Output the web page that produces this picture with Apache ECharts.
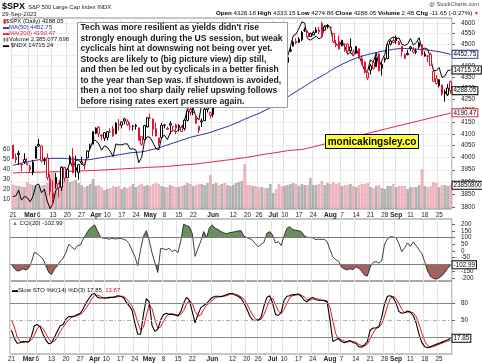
<!DOCTYPE html>
<html><head><meta charset="utf-8">
<script src="https://cdn.jsdelivr.net/npm/echarts@6/dist/echarts.min.js"></script>
<style>html,body{margin:0;padding:0;background:#fff}#c{width:482px;height:363px}</style>
</head><body><div id="c"></div><script>
const dates = ['02-21','02-22','02-23','02-24','02-27','02-28',
'03-01','03-02','03-03','03-06','03-07','03-08','03-09','03-10','03-13','03-14','03-15','03-16','03-17','03-20','03-21','03-22','03-23','03-24','03-27','03-28','03-29','03-30','03-31',
'04-03','04-04','04-05','04-06','04-10','04-11','04-12','04-13','04-14','04-17','04-18','04-19','04-20','04-21','04-24','04-25','04-26','04-27','04-28',
'05-01','05-02','05-03','05-04','05-05','05-08','05-09','05-10','05-11','05-12','05-15','05-16','05-17','05-18','05-19','05-22','05-23','05-24','05-25','05-26','05-30','05-31',
'06-01','06-02','06-05','06-06','06-07','06-08','06-09','06-12','06-13','06-14','06-15','06-16','06-20','06-21','06-22','06-23','06-26','06-27','06-28','06-29','06-30',
'07-03','07-05','07-06','07-07','07-10','07-11','07-12','07-13','07-14','07-17','07-18','07-19','07-20','07-21','07-24','07-25','07-26','07-27','07-28','07-31',
'08-01','08-02','08-03','08-04','08-07','08-08','08-09','08-10','08-11','08-14','08-15','08-16','08-17','08-18','08-21','08-22','08-23','08-24','08-25','08-28','08-29','08-30','08-31',
'09-01','09-05','09-06','09-07','09-08','09-11','09-12','09-13','09-14','09-15','09-18','09-19','09-20','09-21','09-22','09-25','09-26','09-27','09-28','09-29'];

const tickDates = ['02-21','03-01','03-06','03-13','03-20','03-27','04-03','04-10','04-17','04-24','05-01','05-08','05-15','05-22','06-01','06-12','06-20','06-26','07-03','07-10','07-17','07-24','08-01','08-07','08-14','08-21','08-28','09-01','09-11','09-18','09-25'];
const tickText = ['21','Mar','6','13','20','27','Apr','10','17','24','May','8','15','22','Jun','12','20','26','Jul','10','17','24','Aug','7','14','21','28','Sep','11','18','25'];

const open = [4052.4,4001.8,4018.6,3973.2,3992.4,3977.2,
3963.3,3938.7,3998.0,4055.2,4048.3,3987.6,3998.7,3912.8,3835.1,3894.0,3876.7,3878.9,3958.7,3917.5,3975.9,4002.0,3959.2,3939.2,3982.9,3974.1,3999.5,4046.7,4056.2,
4102.2,4128.0,4094.5,4081.2,4085.2,4110.3,4121.7,4100.0,4140.1,4137.2,4164.3,4139.3,4130.5,4132.1,4132.1,4126.4,4087.8,4075.3,4129.6,
4166.8,4164.1,4122.3,4082.6,4084.7,4137.0,4124.3,4143.7,4132.2,4138.5,4126.7,4128.0,4122.9,4157.7,4204.2,4190.8,4176.8,4133.0,4155.7,4156.2,4226.7,4190.7,
4183.0,4241.0,4283.0,4271.3,4285.5,4268.7,4304.9,4308.3,4352.6,4366.3,4365.3,4441.0,4396.1,4380.0,4355.4,4354.2,4344.8,4337.4,4367.5,4374.9,4422.4,
4450.5,4442.0,4422.6,4404.5,4394.2,4415.6,4467.7,4491.5,4514.6,4508.9,4521.8,4563.9,4554.4,4550.2,4543.4,4555.2,4559.0,4598.3,4565.8,4584.8,
4578.8,4550.9,4494.3,4514.0,4491.6,4498.0,4501.6,4487.2,4450.7,4458.1,4478.9,4433.8,4416.3,4344.9,4380.3,4415.3,4396.4,4455.2,4389.4,4426.0,4432.8,4500.3,4517.0,
4530.6,4510.1,4490.4,4434.6,4451.3,4481.0,4473.3,4462.7,4487.8,4498.0,4445.1,4445.4,4452.8,4374.4,4341.7,4310.6,4312.9,4282.6,4269.7,4328.2];
const high = [4052.4,4017.4,4028.3,3978.3,4018.1,3997.5,
3971.7,3990.8,4048.3,4078.5,4050.0,4000.4,4017.8,3934.1,3905.1,3937.3,3894.3,3964.5,3958.9,3956.6,4009.1,4039.5,4007.7,3972.7,4003.8,3979.2,4030.6,4057.9,4110.8,
4127.7,4133.1,4099.7,4107.3,4109.5,4124.3,4134.4,4150.3,4163.2,4151.7,4169.5,4162.6,4148.6,4138.0,4142.4,4126.4,4089.7,4138.2,4170.1,
4186.9,4164.1,4148.3,4082.6,4147.0,4142.3,4130.4,4154.3,4132.8,4143.7,4141.3,4135.5,4164.7,4202.2,4212.9,4209.2,4185.7,4133.0,4165.7,4212.9,4231.1,4195.4,
4232.4,4290.7,4299.3,4288.3,4299.2,4298.0,4322.6,4340.1,4375.4,4391.8,4439.2,4448.5,4400.2,4386.2,4382.3,4366.6,4362.1,4384.4,4390.4,4398.4,4458.5,
4456.5,4454.1,4422.6,4440.4,4412.6,4443.6,4488.3,4517.4,4527.8,4532.9,4562.3,4578.4,4564.7,4555.0,4563.4,4580.6,4582.5,4607.1,4590.2,4594.2,
4584.6,4550.9,4519.5,4540.3,4519.8,4503.3,4502.4,4527.4,4476.2,4490.3,4478.9,4450.0,4421.2,4381.8,4407.6,4418.6,4443.2,4458.3,4418.5,4439.6,4500.1,4521.7,4532.3,
4541.3,4514.3,4490.4,4457.8,4473.5,4490.8,4487.1,4479.4,4512.0,4498.0,4466.4,4449.9,4461.0,4375.7,4357.4,4338.5,4313.0,4292.1,4317.3,4333.2];
const low = [3995.2,3976.9,3969.2,3943.1,3973.6,3969.0,
3939.1,3928.2,3995.2,4044.6,3980.3,3969.8,3908.7,3846.3,3808.9,3873.6,3838.2,3864.1,3901.3,3916.9,3971.2,3936.2,3919.1,3909.2,3970.5,3951.5,3999.5,4032.1,4056.2,
4098.8,4086.9,4072.6,4069.8,4072.6,4102.6,4086.9,4099.4,4113.2,4123.2,4140.4,4134.5,4114.6,4113.9,4117.8,4071.4,4049.4,4075.3,4127.2,
4164.1,4089.7,4088.9,4048.3,4084.7,4123.8,4116.7,4098.9,4109.3,4099.1,4110.3,4109.9,4113.6,4153.5,4180.2,4179.7,4142.5,4104.0,4129.7,4156.2,4192.2,4166.2,
4171.6,4241.0,4266.8,4263.1,4264.0,4261.1,4291.7,4304.4,4337.7,4337.9,4362.6,4407.4,4367.2,4360.1,4351.8,4341.3,4328.1,4335.0,4360.2,4372.0,4422.4,
4442.3,4436.6,4385.1,4397.4,4389.9,4408.5,4463.2,4489.4,4499.6,4504.9,4514.6,4557.5,4527.6,4535.8,4541.3,4552.4,4547.6,4528.6,4564.0,4573.1,
4567.5,4505.8,4485.5,4474.6,4491.2,4464.4,4461.3,4457.9,4444.0,4453.4,4432.2,4403.6,4364.8,4335.3,4360.3,4382.8,4396.4,4375.6,4356.3,4415.0,4431.7,4493.6,4507.4,
4501.4,4496.0,4442.4,4430.5,4448.4,4467.9,4456.8,4453.5,4478.7,4447.2,4442.1,4416.6,4401.4,4329.2,4316.5,4302.7,4266.0,4238.6,4264.4,4274.9];
const close = [3997.3,3991.1,4012.3,3970.0,3982.2,3970.2,
3951.4,3981.4,4045.6,4048.4,3986.4,3992.0,3918.3,3861.6,3855.8,3919.3,3891.9,3960.3,3916.6,3951.6,4002.9,3937.0,3948.7,3971.0,3977.5,3971.3,4027.8,4050.8,4109.3,
4124.5,4100.6,4090.4,4105.0,4109.1,4108.9,4092.0,4146.2,4137.6,4151.3,4154.9,4154.5,4129.8,4133.5,4137.0,4071.6,4056.0,4135.4,4169.5,
4167.9,4119.6,4090.8,4061.2,4136.3,4138.1,4119.2,4137.6,4130.6,4124.1,4136.3,4109.9,4158.8,4198.1,4192.0,4192.6,4145.6,4115.2,4151.3,4205.5,4205.5,4179.8,
4221.0,4282.4,4273.8,4283.9,4267.5,4293.9,4298.9,4338.9,4369.0,4372.6,4425.8,4409.6,4388.7,4365.7,4381.9,4348.3,4328.8,4378.4,4376.9,4396.4,4450.4,
4455.6,4446.8,4411.6,4399.0,4409.5,4439.3,4472.2,4510.0,4505.4,4522.8,4555.0,4565.7,4534.9,4536.3,4554.6,4567.5,4566.8,4537.4,4582.2,4589.0,
4576.7,4513.4,4501.9,4478.0,4518.4,4499.4,4467.7,4468.8,4464.1,4489.7,4437.9,4404.3,4370.4,4369.7,4399.8,4387.6,4436.0,4376.3,4405.7,4433.3,4497.6,4514.9,4507.7,
4515.8,4496.8,4465.5,4451.1,4457.5,4487.5,4461.9,4467.4,4505.1,4450.3,4453.5,4444.0,4402.2,4330.0,4320.1,4337.4,4273.5,4274.5,4299.7,4288.05];
const prevCloseBefore = 4079.1;

const volumeM = [2450,2380,2300,2250,2200,2700,
2500,2400,2350,2300,2350,2400,2600,3400,3700,3200,2900,3300,4300,3000,2700,2800,2900,2600,2400,2200,2300,2500,3000,
2300,2400,2200,1900,2000,2100,2300,2200,2300,2000,2200,2100,2300,2500,2200,2400,2500,2300,2400,
2300,2500,2600,2500,2300,2200,2200,2400,2300,2200,2200,2300,2400,2600,2500,2300,2400,2500,2500,2400,2600,3400,
2500,2600,2400,2500,2600,2400,2300,2400,2600,2700,2800,4500,2400,2400,2300,2300,2200,2200,2100,2100,2500,
1600,2000,2500,2300,2300,2400,2500,2600,2500,2300,2500,2400,2400,3100,2400,2400,2500,2800,2400,2600,
2500,2700,2500,2600,2300,2400,2400,2500,2300,2200,2400,2500,2500,2600,2200,2100,2300,2400,2100,2000,2300,2300,2500,
2200,2300,2300,2300,2000,2200,2200,2200,2400,4000,2300,2200,2300,2700,2600,2200,2400,2400,2300,2385.08];

const ndx = [12060,12070,12180,11990,12060,12040,
11960,12060,12270,12300,12130,12200,11970,11830,11930,12180,12230,12500,12520,12560,12750,12600,12770,12770,12700,12650,12880,13000,13180,
13170,13100,12970,13060,13030,12950,12840,13100,13080,13080,13100,13100,12990,13000,12970,12720,12820,13160,13250,
13230,13120,13000,12980,13240,13280,13190,13330,13390,13340,13400,13410,13590,13850,13810,13860,13670,13600,13940,14300,14340,14250,
14450,14550,14560,14540,14290,14460,14520,14730,14850,14950,15170,15080,15000,14780,14960,14810,14600,14860,14890,14860,15180,
15190,15200,15040,14950,14960,15030,15260,15530,15570,15710,15870,15840,15460,15420,15470,15520,15450,15490,15770,15760,
15730,15380,15330,15270,15400,15270,15080,15130,15040,15210,15040,14870,14690,14690,14950,14900,15120,14780,14940,15080,15380,15460,15500,
15460,15470,15320,15290,15330,15460,15300,15360,15480,15200,15230,15200,14990,14700,14700,14770,14540,14570,14700,14715.24];

const ma50 = [3968,3971,3974,3977,3980,3982,
3985,3987,3989,3991,3993,3994,3995,3996,3997,3997,3997,3997,3996,3996,3995,3994,3993,3992,3991,3991,3991,3992,3994,
3996,3998,4000,4002,4004,4006,4008,4010,4012,4014,4016,4018,4020,4021,4022,4023,4024,4026,4029,
4032,4035,4038,4041,4045,4049,4053,4057,4061,4065,4069,4073,4077,4081,4085,4088,4091,4094,4097,4100,4103,4106,
4110,4115,4119,4123,4127,4131,4136,4141,4146,4151,4157,4163,4168,4173,4178,4183,4188,4194,4200,4206,4213,
4220,4228,4236,4244,4252,4260,4268,4276,4284,4292,4300,4308,4316,4324,4332,4340,4347,4354,4361,4369,
4378,4386,4393,4400,4407,4413,4419,4425,4430,4435,4440,4444,4448,4452,4455,4458,4461,4464,4467,4470,4472,4474,4476,
4478,4479,4480,4480,4480,4479,4478,4477,4476,4475,4474,4473,4471,4469,4467,4465,4462,4459,4456,4452.75];

const ma200 = [3937,3937,3938,3938,3938,3939,
3939,3939,3940,3940,3940,3941,3941,3941,3942,3942,3942,3943,3943,3944,3944,3944,3945,3945,3945,3946,3946,3947,3947,
3948,3948,3949,3949,3950,3951,3951,3952,3953,3953,3954,3955,3955,3956,3957,3957,3958,3959,3960,
3960,3961,3961,3962,3962,3963,3964,3965,3966,3967,3968,3969,3970,3971,3972,3973,3974,3975,3977,3978,3980,3981,
3983,3984,3986,3987,3989,3990,3992,3993,3995,3997,3998,4000,4002,4004,4006,4008,4010,4012,4014,4016,4018,
4019,4021,4023,4025,4027,4029,4030,4031,4032,4033,4034,4036,4039,4042,4045,4048,4051,4054,4057,4060,
4063,4066,4069,4072,4075,4078,4081,4084,4087,4090,4093,4096,4099,4102,4105,4108,4111,4114,4117,4120,4123,4126,4129,
4132,4135,4138,4141,4144,4147,4150,4153,4156,4159,4162,4165,4168,4171,4174,4177,4180,4183,4186,4190.47];

const cci20 = [-100,-130,-150,-145,-132,-142,-128,-80,-10,-20,-40,-60,-110,-160,-175,-135,-110,-75,-55,-10,
50,30,10,40,45,90,125,160,180,195,150,105,95,95,88,95,90,92,95,88,
80,55,5,-40,-110,10,110,152,80,-15,-90,-160,20,15,10,20,-5,8,-12,75,
200,190,182,130,-40,20,75,145,100,175,195,170,160,145,135,130,137,140,145,150,
152,110,100,92,80,55,32,50,65,132,145,120,60,70,40,115,170,182,160,155,
152,145,115,102,102,98,85,88,87,87,70,10,-45,-65,-78,-120,-135,-140,-132,-140,
-118,-128,-150,-180,-187,-120,-85,-78,-90,-75,50,90,107,104,100,55,-5,25,60,35,
68,40,10,-20,-80,-150,-190,-205,-210,-200,-185,-160,-130,-102.99];

const stochK = [32,18,9,10,12,12,11,22,40,42,38,25,15,8,10,20,30,40,42,52,
56,56,57,60,62,70,80,88,95,97,90,89,89,89,90,90,91,93,92,90,
82,75,68,45,25,25,60,88,82,40,30,34,50,60,62,60,60,59,57,65,
80,90,85,65,45,60,72,76,79,85,90,92,92,91,93,95,97,97,94,92,
88,80,70,58,50,49,50,55,75,90,93,80,60,58,64,85,92,93,95,95,
96,92,85,82,88,90,86,85,85,84,82,50,12,15,18,12,10,12,14,10,
9,3,2,6,12,32,36,36,38,55,78,92,93,90,80,65,62,63,66,64,
58,45,25,10,3,1,3,5,7,9,11,13,15,17.85];
const stochD = [50,38,20,12,10,11,12,15,24,35,40,35,26,16,11,13,20,30,37,45,
50,55,56,58,60,64,71,79,88,93,94,92,89,89,89,90,90,91,92,92,
88,82,75,63,46,32,37,58,77,70,51,35,38,48,57,61,61,60,59,60,
67,78,85,80,65,57,59,69,76,80,85,89,91,92,92,93,95,96,96,94,
91,87,79,69,59,52,50,51,60,73,86,88,78,66,61,69,80,90,93,94,
95,94,91,86,85,87,88,87,85,85,84,72,48,26,15,15,13,11,12,12,
11,7,5,4,7,17,27,35,37,43,57,75,88,92,88,79,69,63,64,64,
63,56,43,27,13,5,2,3,5,7,9,11,13,13.87];

const priceTicks = [3800,3850,3900,3950,4000,4050,4100,4150,4200,4250,4300,4350,4400,4450,4500,4550,4600];
const volTicks = [1000,2000,3000,4000,5000,6000];
const cciTicks = [-200,-150,-100,-50,0,50,100,150,200];
const stoTicks = [20,50,80];

const noteLines = ["Tech was more resilient as yields didn't rise",
"strongly enough during the US session, but weak",
"cyclicals hint at downswing not being over yet.",
"Stocks are likely to (big picture view) dip still,",
"and then be led out by cyclicals in a better finish",
"to the year than Sep was. If shutdown is avoided,",
"then a not too sharp daily relief upswing follows",
"before rising rates exert pressure again."];

const FONT = '"Liberation Sans", Arial, sans-serif';
const RED = '#e3112c', MA50C = '#2a2aa8', MA200C = '#e0203c';
const N = dates.length;
const tickMap = {};
tickDates.forEach((d, i) => { tickMap[d] = tickText[i]; });
const isTick = (idx, val) => tickMap[dates[idx]] !== undefined;
const fmtTick = (val) => { const t = tickMap[val] || ''; return /^[A-Z]/.test(t) ? '{m|' + t + '}' : t; };

const candles = [], vols = [];
for (let i = 0; i < N; i++) {
  const pc = i === 0 ? prevCloseBefore : close[i - 1];
  const down = close[i] < pc;
  const col = down ? RED : '#000';
  candles.push({ value: [open[i], close[i], low[i], high[i]],
    itemStyle: { color: '#fff', color0: col, borderColor: col, borderColor0: col, borderWidth: 1 } });
  vols.push({ value: volumeM[i], itemStyle: { color: down ? 'rgba(232,150,162,0.72)' : 'rgba(150,150,150,0.72)' } });
}
const lastOnly = (arr) => arr.map((v, i) => i === arr.length - 1 ? v : '-');

const boxLabel = (border, fmt) => ({ show: true, formatter: fmt, fontSize: 6.3, fontFamily: FONT, color: '#000',
  backgroundColor: '#fff', borderColor: border, borderWidth: 1, padding: [1, 1, 0, 1], distance: 2 });
const axLabel = (extra) => Object.assign({ fontSize: 6.3, fontFamily: FONT, color: '#222' }, extra);

const xAxes = [0, 1, 2].map(g => ({
  type: 'category', gridIndex: g, data: dates, boundaryGap: true,
  axisLine: { show: false }, axisTick: { show: false },
  axisLabel: axLabel({ show: g !== 1, interval: isTick, formatter: fmtTick, margin: g === 0 ? 3 : 2,
    rich: { m: { fontWeight: 'bold', fontSize: 6.6, fontFamily: FONT, color: '#222' } } }),
  splitLine: { show: true, interval: isTick, lineStyle: { color: '#e3e3e3', width: 1 } }
}));

const option = {
  animation: false,
  backgroundColor: '#fff',
  textStyle: { fontFamily: FONT },
  grid: [
    { left: 10, top: 18, width: 442, height: 191, show: true, borderColor: '#8c8c8c', borderWidth: 1 },
    { left: 10, top: 219, width: 442, height: 62, show: true, borderColor: '#8c8c8c', borderWidth: 1 },
    { left: 10, top: 281, width: 442, height: 73, show: true, borderColor: '#8c8c8c', borderWidth: 1 }
  ],
  xAxis: xAxes,
  yAxis: [
    { type: 'log', gridIndex: 0, position: 'right', min: 3792.3, max: 4624,
      axisLine: { show: false },
      axisTick: { show: true, length: 3, customValues: priceTicks, lineStyle: { color: '#666' } },
      axisLabel: axLabel({ customValues: priceTicks, margin: 9, formatter: v => String(Math.round(v)) }),
      splitLine: { show: true, lineStyle: { color: '#ededed' } } },
    { type: 'value', gridIndex: 0, position: 'left', min: 0, max: 19100,
      axisLine: { show: false }, axisTick: { show: false }, splitLine: { show: false },
      axisLabel: axLabel({ customValues: volTicks, margin: 1.5, formatter: v => String(Math.round(v / 100)) }) },
    { type: 'log', gridIndex: 0, min: 11825, max: 15967, show: false, position: 'right' },
    { type: 'value', gridIndex: 1, position: 'right', min: -224, max: 239,
      axisLine: { show: false },
      axisTick: { show: true, length: 3, customValues: cciTicks, lineStyle: { color: '#666' } },
      axisLabel: axLabel({ customValues: cciTicks, margin: 9 }),
      splitLine: { show: false } },
    { type: 'value', gridIndex: 2, position: 'right', min: -10, max: 119,
      axisLine: { show: false },
      axisTick: { show: true, length: 3, customValues: stoTicks, lineStyle: { color: '#666' } },
      axisLabel: axLabel({ customValues: stoTicks, margin: 9 }),
      splitLine: { show: false } }
  ],
  visualMap: [{ type: 'piecewise', show: false, seriesIndex: 8, dimension: 1,
    pieces: [{ gt: 100, color: '#6a8f5f' }, { gte: -100, lte: 100, color: 'rgba(255,255,255,0)' }, { lt: -100, color: '#a2635f' }] }],
  series: [
    { type: 'bar', name: 'Volume', xAxisIndex: 0, yAxisIndex: 1, data: vols, barCategoryGap: '8%', z: 1, silent: true },
    { type: 'line', name: 'MA(200)', xAxisIndex: 0, yAxisIndex: 0, data: ma200, symbol: 'none', z: 3,
      lineStyle: { color: MA200C, width: 1 }, endLabel: boxLabel(MA200C, p => p.value.toFixed(2)) },
    { type: 'line', name: 'MA(50)', xAxisIndex: 0, yAxisIndex: 0, data: ma50, symbol: 'none', z: 3,
      lineStyle: { color: MA50C, width: 1 }, endLabel: boxLabel(MA50C, p => p.value.toFixed(2)) },
    { type: 'line', name: '$NDX', xAxisIndex: 0, yAxisIndex: 2, data: ndx, symbol: 'none', z: 3,
      lineStyle: { color: '#000', width: 1 }, endLabel: boxLabel('#000', p => p.value.toFixed(2)) },
    { type: 'candlestick', name: '$SPX', xAxisIndex: 0, yAxisIndex: 0, data: candles, barWidth: 2, z: 4 },
    { type: 'line', name: 'closeFlag', xAxisIndex: 0, yAxisIndex: 0, data: lastOnly(close), symbol: 'none', z: 5,
      lineStyle: { width: 0, opacity: 0 }, endLabel: boxLabel('#000', p => p.value.toFixed(2)) },
    { type: 'line', name: 'volFlag', xAxisIndex: 0, yAxisIndex: 1, data: lastOnly(volumeM), symbol: 'none', z: 5,
      lineStyle: { width: 0, opacity: 0 }, endLabel: boxLabel('#000', p => String(Math.round(p.value * 1e6)).slice(0, 9)) },
    { type: 'line', name: 'cciLine', xAxisIndex: 1, yAxisIndex: 3, data: cci20, symbol: 'none', z: 4,
      lineStyle: { color: '#111', width: 0.8 }, endLabel: boxLabel('#000', p => p.value.toFixed(2)),
      markLine: { silent: true, symbol: ['none', 'none'], label: { show: false },
        lineStyle: { color: '#7c7c7c', type: 'solid', width: 1 }, data: [{ yAxis: 100 }, { yAxis: -100 }] } },
    { type: 'line', name: 'cciFill', xAxisIndex: 1, yAxisIndex: 3, data: cci20, symbol: 'none', z: 2,
      lineStyle: { width: 0, opacity: 0 }, areaStyle: { origin: 0, opacity: 1 } },
    { type: 'line', name: '%K', xAxisIndex: 2, yAxisIndex: 4, data: stochK, symbol: 'none', z: 4,
      lineStyle: { color: '#000', width: 1.1 }, endLabel: boxLabel('#000', p => p.value.toFixed(2)),
      markLine: { silent: true, symbol: ['none', 'none'], label: { show: false },
        data: [{ yAxis: 80, lineStyle: { color: '#8a8a8a', type: 'solid', width: 1 } },
               { yAxis: 20, lineStyle: { color: '#8a8a8a', type: 'solid', width: 1 } },
               { yAxis: 50, lineStyle: { color: '#b0b0b0', type: [4, 2, 1, 2], width: 1 } }] } },
    { type: 'line', name: '%D', xAxisIndex: 2, yAxisIndex: 4, data: stochD, symbol: 'none', z: 3,
      lineStyle: { color: '#e8141e', width: 1 } }
  ],
  graphic: [
    { type: 'text', x: 2, y: 1, z: 50, style: { text: '{a|$SPX} {b|S&P 500 Large Cap Index INDX}',
      rich: { a: { fontSize: 9, fontWeight: 'bold', fontFamily: FONT, fill: '#000' }, b: { fontSize: 5.8, fontFamily: FONT, fill: '#222' } } } },
    { type: 'text', x: 2, y: 11.5, z: 50, style: { text: '29-Sep-2023', fontSize: 6, fontFamily: FONT, fill: '#222' } },
    { type: 'text', x: 479, y: 1, z: 50, style: { text: '@ StockCharts.com', fontSize: 5.6, fontFamily: FONT, fill: '#444', textAlign: 'right' } },
    { type: 'text', x: 479, y: 10.5, z: 50, style: { textAlign: 'right', fontSize: 6.2, fontFamily: FONT, fill: '#111',
      text: '{b|Open} 4328.18 {b|High} 4333.15 {b|Low} 4274.86 {b|Close} 4288.05 {b|Volume} 2.4B {b|Chg} -11.65 (-0.27%) {r|▼}',
      rich: { b: { fontWeight: 'bold', fontSize: 6.2, fontFamily: FONT, fill: '#000' }, r: { fontSize: 5, fill: RED } } } },
    { type: 'text', x: 3, y: 18, z: 50, style: { fontSize: 6, fontFamily: FONT, fill: '#000', lineHeight: 6.1,
      text: '{i|▮}{t|$SPX (Daily) 4288.05}\n{bl|▬}{bt|MA(50) 4452.75}\n{rl|▬}{rt|MA(200) 4190.47}\n{v|▮▮}{t|Volume 2,385,077,696}\n{k|▬}{t| $NDX 14715.24}',
      rich: { i: { fill: RED, fontSize: 6 }, t: { fill: '#111', fontSize: 6, fontFamily: FONT },
        bl: { fill: MA50C, fontSize: 6 }, bt: { fill: MA50C, fontSize: 6, fontFamily: FONT },
        rl: { fill: MA200C, fontSize: 6 }, rt: { fill: MA200C, fontSize: 6, fontFamily: FONT },
        v: { fill: '#777', fontSize: 5 }, k: { fill: '#000', fontSize: 6 } } } },
    { type: 'text', x: 12, y: 220, z: 50, style: { fontSize: 6, fontFamily: FONT,
      text: '{g|▲}{t| CCI(20) -102.99}', rich: { g: { fill: '#6a8f5f', fontSize: 6 }, t: { fill: '#111', fontSize: 6, fontFamily: FONT } } } },
    { type: 'text', x: 12, y: 287, z: 50, style: { fontSize: 6, fontFamily: FONT,
      text: '{k|▬}{t|Slow STO %K(14) %D(3) 17.85, }{r|13.87}',
      rich: { k: { fill: '#000', fontSize: 6 }, t: { fill: '#111', fontSize: 6, fontFamily: FONT }, r: { fill: '#e8141e', fontSize: 6, fontFamily: FONT } } } },
    { type: 'rect', z: 60, shape: { x: 77.5, y: 22.5, width: 210, height: 85 }, style: { fill: '#fff', stroke: '#9a9a9a', lineWidth: 1 } },
    { type: 'text', z: 61, x: 80.5, y: 22.5, style: { text: noteLines.join('\n'), fontSize: 8.6, fontWeight: 'bold',
      fontFamily: FONT, fill: '#1a1a1a', lineHeight: 10.5 } },
    { type: 'rect', z: 60, shape: { x: 325.5, y: 134.5, width: 93, height: 14 }, style: { fill: '#ffff33', stroke: '#000', lineWidth: 1 } },
    { type: 'text', z: 61, x: 372, y: 141.8, style: { text: 'monicakingsley.co', fontSize: 10, fontWeight: 'bold',
      fontFamily: FONT, fill: '#000', textAlign: 'center', textVerticalAlign: 'middle' } }
  ]
};
const lens = [open, high, low, close, volumeM, ndx, ma50, ma200, cci20, stochK, stochD].map(a => a.length);
if (lens.some(l => l !== N)) {
  option.graphic.push({ type: 'text', x: 150, y: 170, z: 99, style: { text: 'LEN ' + N + ': ' + lens.join(','), fontSize: 12, fill: 'red' } });
}
const chart = echarts.init(document.getElementById('c'), null, { renderer: 'canvas' });
chart.setOption(option);
</script></body></html>
